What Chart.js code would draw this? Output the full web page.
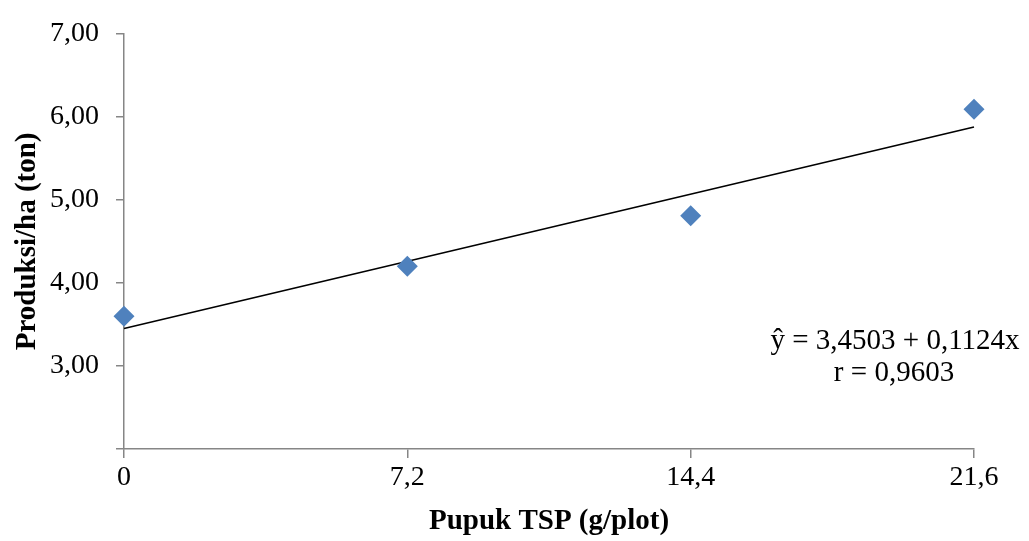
<!DOCTYPE html>
<html>
<head>
<meta charset="utf-8">
<script src="https://cdn.jsdelivr.net/npm/chart.js@4/dist/chart.umd.min.js"></script>
<style>
  html, body { margin: 0; padding: 0; background: #fff; }
  #wrap { width: 1029px; height: 541px; position: relative; }
</style>
</head>
<body>
<div id="wrap"><canvas id="scatter_chart"></canvas></div>
<script>
// dose of TSP fertilizer (g/plot) and yield per ha (ton)
const dosis = [0, 7.2, 14.4, 21.6];
const produksi = [3.60, 4.20, 4.81, 6.09];

// regression line: y = 3,4503 + 0,1124x
const trendX = [0, 21.6];
const trendY = [3.4503, 5.8781];

const xTicks = [0, 7.2, 14.4, 21.6];
const yTicks = [2, 3, 4, 5, 6, 7];

const persamaan = ['ŷ = 3,4503 + 0,1124x', 'r = 0,9603'];

const serif = 'Liberation Serif, Times New Roman, serif';
const axisGray = '#868686';

const equationLabel = {
    id: 'equationLabel',
    afterDraw(chart) {
        const ctx = chart.ctx;
        ctx.save();
        ctx.fillStyle = '#000';
        ctx.font = '29px ' + serif;
        ctx.textAlign = 'center';
        ctx.textBaseline = 'middle';
        ctx.fillText(persamaan[0], 895, 341);
        ctx.fillText(persamaan[1], 894, 373);
        ctx.restore();
    }
};

const ctx = document.getElementById('scatter_chart').getContext('2d');
const myChart = new Chart(ctx, {
    type: 'scatter',
    data: {
        datasets: [{
                label: 'Produksi',
                data: dosis.map((x, i) => ({ x: x, y: produksi[i] })),
                pointStyle: 'rectRot',
                pointRadius: 10.5,
                pointHoverRadius: 10.5,
                backgroundColor: '#4F81BD',
                borderColor: '#4F81BD',
                borderWidth: 0,
                clip: false,
                order: 1,
            },
            {
                label: 'Linear',
                type: 'line',
                data: trendX.map((x, i) => ({ x: x, y: trendY[i] })),
                borderColor: '#000',
                borderWidth: 1.6,
                pointRadius: 0,
                fill: false,
                clip: false,
                order: 2,
            },
        ]
    },
    options: {
        responsive: true,
        maintainAspectRatio: false,
        animation: false,
        layout: { padding: { top: 27, right: 55, bottom: 0, left: 0 } },
        plugins: {
            legend: { display: false },
            tooltip: { enabled: false },
        },
        scales: {
            x: {
                type: 'linear',
                min: 0,
                max: 21.6,
                afterBuildTicks: s => { s.ticks = xTicks.map(v => ({ value: v })); },
                afterFit: s => { s.height = 92; },
                grid: { drawOnChartArea: false, drawTicks: true, tickLength: 9, color: axisGray, lineWidth: 1.5 },
                border: { color: axisGray, width: 1.5 },
                ticks: {
                    color: '#000',
                    padding: 3,
                    maxRotation: 0,
                    font: { family: serif, size: 28 },
                    callback: v => String(v).replace('.', ','),
                },
                title: {
                    display: true,
                    text: 'Pupuk TSP (g/plot)',
                    color: '#000',
                    font: { family: serif, size: 29, weight: 'bold' },
                    padding: { top: 0, bottom: 2 },
                },
            },
            y: {
                min: 2,
                max: 7,
                afterBuildTicks: s => { s.ticks = yTicks.map(v => ({ value: v })); },
                afterFit: s => { s.width = 124; },
                grid: { drawOnChartArea: false, drawTicks: true, tickLength: 8, color: axisGray, lineWidth: 1.5 },
                border: { color: axisGray, width: 1.5 },
                ticks: {
                    color: '#000',
                    padding: 17,
                    font: { family: serif, size: 28 },
                    callback: v => v == 2 ? '' : v.toFixed(2).replace('.', ','),
                },
                title: {
                    display: true,
                    text: 'Produksi/ha (ton)',
                    color: '#000',
                    font: { family: serif, size: 29, weight: 'bold' },
                    padding: { top: 10, bottom: 0 },
                },
            },
        },
    },
    plugins: [equationLabel],
});
</script>
</body>
</html>
